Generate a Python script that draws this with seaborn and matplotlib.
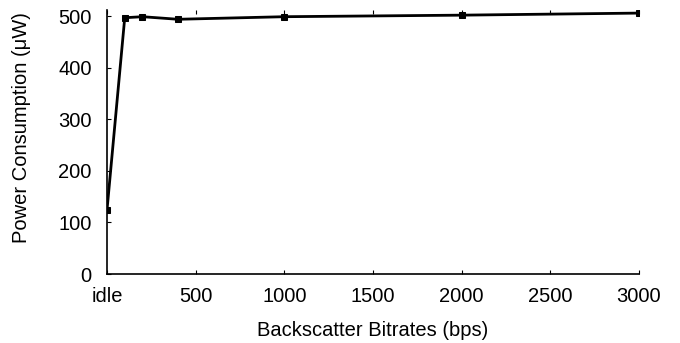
import matplotlib
matplotlib.use("Agg")
import matplotlib.pyplot as plt
import seaborn as sns
import pandas as pd

bitrates = [0, 100, 200, 400, 1000, 2000, 3000]
power = [124, 497, 499, 494, 499, 502, 506]
xticks = [0, 500, 1000, 1500, 2000, 2500, 3000]
xticklabels = ["idle", "500", "1000", "1500", "2000", "2500", "3000"]
yticks = [0, 100, 200, 300, 400, 500]

sns.set_style("ticks")
plt.rcParams["font.family"] = ["Liberation Sans", "DejaVu Sans"]
plt.rcParams["text.color"] = "black"
plt.rcParams["axes.labelcolor"] = "black"

df = pd.DataFrame({"x": bitrates, "y": power})

fig = plt.figure(figsize=(6.8, 3.43), dpi=100)
ax = fig.add_axes([107/680, 1 - 274/343, (639-107)/680, (274-10)/343])
sns.lineplot(data=df, x="x", y="y", ax=ax, color="black", linewidth=2,
             marker="s", markersize=4.5, markeredgecolor="black")
ax.set_xlim(0, 3000)
ax.set_ylim(0, 512)
ax.set_xticks(xticks)
ax.set_xticklabels(xticklabels)
ax.set_yticks(yticks)
for s in ["top", "right"]:
    ax.spines[s].set_visible(False)
for s in ["left", "bottom"]:
    ax.spines[s].set_linewidth(1.2)
    ax.spines[s].set_color("black")
ax.tick_params(axis="both", direction="in", length=3, width=0.8,
               labelsize=14.5, colors="black")
ax.tick_params(axis="x", top=True, pad=9)
ax.tick_params(axis="y", pad=11)
ax.set_xlabel("Backscatter Bitrates (bps)", fontsize=14.5, va="center", color="black")
ax.set_ylabel("Power Consumption (\u03bcW)", fontsize=14.5, va="center", color="black")
ax.xaxis.set_label_coords((373-107)/532, (274-330)/264)
ax.yaxis.set_label_coords((22-107)/532, (274-128)/264)
fig.savefig("out.png", dpi=100)
